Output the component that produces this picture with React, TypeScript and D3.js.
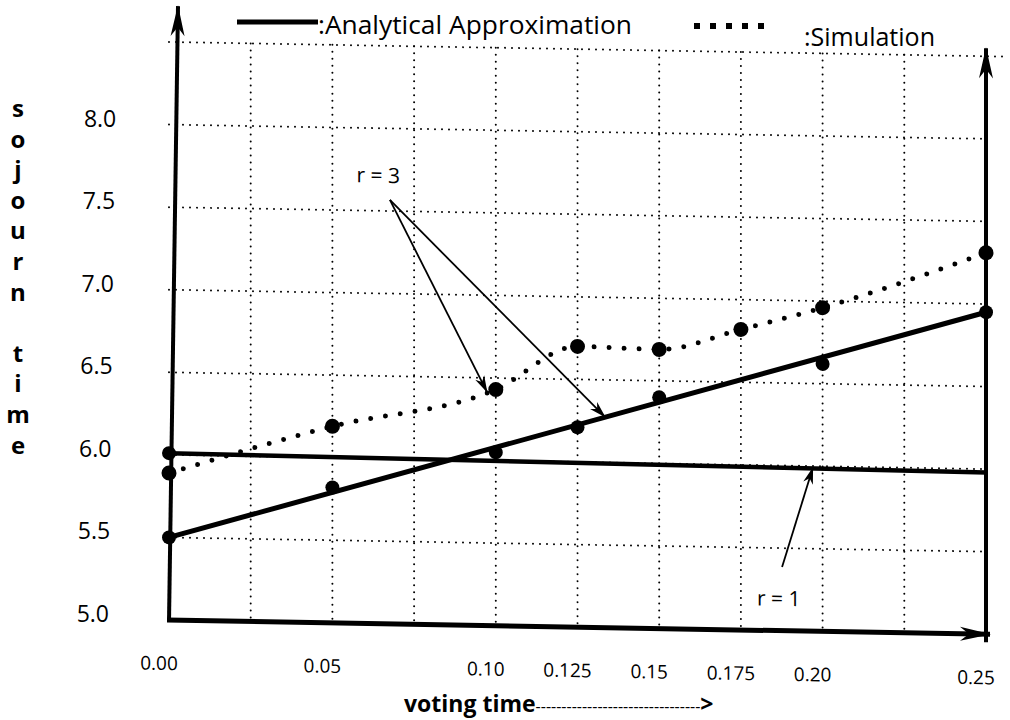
import { useEffect, useRef } from 'react';
import * as d3 from 'd3';

// voting times where the curves were evaluated, and the axis labels
const votingTimes = [0, 0.05, 0.1, 0.125, 0.15, 0.175, 0.2, 0.25];
const xTickLabels = ['0.00', '0.05', '0.10', '0.125', '0.15', '0.175', '0.20', '0.25'];
const yTicks = [5.0, 5.5, 6.0, 6.5, 7.0, 7.5, 8.0];
const yTickLabels = ['5.0', '5.5', '6.0', '6.5', '7.0', '7.5', '8.0'];
const gridXs = [0.025, 0.05, 0.075, 0.1, 0.125, 0.15, 0.175, 0.2, 0.225];
const gridYs = [5.5, 6.0, 6.5, 7.0, 7.5, 8.0, 8.5];

// r = 3, simulation (dotted curve)
const simulationR3 = [5.89, 6.19, 6.43, 6.7, 6.69, 6.82, 6.96, 7.31];
// r = 3, analytical approximation (solid, straight)
const analyticalR3Times = [0, 0.05, 0.1, 0.125, 0.15, 0.2, 0.25];
const analyticalR3 = [5.5, 5.82, 6.05, 6.21, 6.4, 6.62, 6.95];
// r = 1, analytical approximation (solid)
const analyticalR1Times = [0, 0.25];
const analyticalR1 = [6.01, 5.98];
const analyticalR1Marked = [true, false];

// callout labels with arrows, in data units (time, sojourn)
const callouts = [
  {
    label: 'r = 3',
    at: [0.064, 7.67],
    from: [0.0676, 7.567],
    tips: [
      [0.0973, 6.415],
      [0.1334, 6.276],
    ],
  },
  {
    label: 'r = 1',
    at: [0.1866, 5.15],
    from: [0.1876, 5.386],
    tips: [[0.197, 5.989]],
  },
];

const yTitle = 'sojourn time';
const xTitle = 'voting time';

export default function App() {
  const svgRef = useRef<SVGSVGElement>(null);

  useEffect(() => {
    if (!svgRef.current) return;
    const svg = d3.select(svgRef.current);
    svg.selectAll('*').remove();

    const font = "'Open Sans', 'DejaVu Sans', sans-serif";
    const x = d3.scaleLinear().domain([0, 0.25]).range([169, 986]);
    const y = d3.scaleLinear().domain([5, 8.5]).range([620, 42]);
    // the left axis leans right by ~9px over its height
    const lean = 9 / (y(5) - y(8.5) + 36);

    const defs = svg.append('defs');
    defs
      .append('marker')
      .attr('id', 'axisHead')
      .attr('viewBox', '-32 -10 34 20')
      .attr('refX', 0)
      .attr('refY', 0)
      .attr('markerWidth', 34)
      .attr('markerHeight', 20)
      .attr('markerUnits', 'userSpaceOnUse')
      .attr('orient', 'auto')
      .append('path')
      .attr('d', 'M1,0 L-30,-7 L-21,0 L-30,7 Z')
      .attr('fill', '#000');
    defs
      .append('marker')
      .attr('id', 'calloutHead')
      .attr('viewBox', '-18 -7 20 14')
      .attr('refX', 0)
      .attr('refY', 0)
      .attr('markerWidth', 20)
      .attr('markerHeight', 14)
      .attr('markerUnits', 'userSpaceOnUse')
      .attr('orient', 'auto')
      .append('path')
      .attr('d', 'M1,0 L-16,-5 L-11,0 L-16,5 Z')
      .attr('fill', '#000');

    // the scanned figure leans a little, so the plot area is sheared by 1 degree
    const plot = svg
      .append('g')
      .attr('transform', `translate(${x(0)},0) skewY(1) translate(${-x(0)},0)`);

    // dotted grid
    plot
      .append('g')
      .selectAll('line')
      .data(gridYs)
      .join('line')
      .attr('x1', x(0))
      .attr('x2', (d) => (d === 8.5 ? x(0.25) + 22 : x(0.25)))
      .attr('y1', (d) => y(d))
      .attr('y2', (d) => y(d))
      .attr('stroke', '#000')
      .attr('stroke-width', 2)
      .attr('stroke-linecap', 'round')
      .attr('stroke-dasharray', '0 7');
    plot
      .append('g')
      .selectAll('line')
      .data(gridXs)
      .join('line')
      .attr('x1', (d) => x(d))
      .attr('x2', (d) => x(d))
      .attr('y1', y(8.5))
      .attr('y2', y(5))
      .attr('stroke', '#000')
      .attr('stroke-width', 2)
      .attr('stroke-linecap', 'round')
      .attr('stroke-dasharray', '0 7');

    // axes with arrow heads
    const axes = [
      { x1: x(0), y1: y(5) + 2, x2: x(0) + 9, y2: y(8.5) - 36, w: 4 },
      { x1: x(0.25), y1: y(5) + 8, x2: x(0.25), y2: y(8.5) - 8, w: 4 },
      { x1: x(0) - 2, y1: y(5), x2: x(0.25) + 4, y2: y(5), w: 5 },
    ];
    plot
      .append('g')
      .selectAll('line')
      .data(axes)
      .join('line')
      .attr('x1', (d) => d.x1)
      .attr('y1', (d) => d.y1)
      .attr('x2', (d) => d.x2)
      .attr('y2', (d) => d.y2)
      .attr('stroke', '#000')
      .attr('stroke-width', (d) => d.w)
      .attr('marker-end', 'url(#axisHead)');

    // x tick labels
    plot
      .append('g')
      .selectAll('text')
      .data(votingTimes)
      .join('text')
      .attr('x', (d) => x(d) - 10)
      .attr('y', y(5) + 50)
      .attr('text-anchor', 'middle')
      .attr('font-family', font)
      .attr('font-size', 19)
      .text((_, i) => xTickLabels[i]);

    const line = d3
      .line<{ t: number; v: number }>()
      .x((d) => x(d.t))
      .y((d) => y(d.v));

    // r = 1 analytical line
    const r1 = analyticalR1Times.map((t, i) => ({ t, v: analyticalR1[i], mark: analyticalR1Marked[i] }));
    plot
      .append('path')
      .attr('d', line(r1))
      .attr('fill', 'none')
      .attr('stroke', '#000')
      .attr('stroke-width', 4.5);
    plot
      .append('g')
      .selectAll('circle')
      .data(r1.filter((d) => d.mark))
      .join('circle')
      .attr('cx', (d) => x(d.t))
      .attr('cy', (d) => y(d.v))
      .attr('r', 7);

    // r = 3 analytical line: drawn straight between its end points
    const r3a = analyticalR3Times.map((t, i) => ({ t, v: analyticalR3[i] }));
    plot
      .append('path')
      .attr('d', line([r3a[0], r3a[r3a.length - 1]]))
      .attr('fill', 'none')
      .attr('stroke', '#000')
      .attr('stroke-width', 5);
    plot
      .append('g')
      .selectAll('circle')
      .data(r3a)
      .join('circle')
      .attr('cx', (d) => x(d.t))
      .attr('cy', (d) => y(d.v))
      .attr('r', 7);

    // r = 3 simulation curve
    const r3s = votingTimes.map((t, i) => ({ t, v: simulationR3[i] }));
    plot
      .append('path')
      .attr('d', line.curve(d3.curveMonotoneX)(r3s))
      .attr('fill', 'none')
      .attr('stroke', '#000')
      .attr('stroke-width', 5)
      .attr('stroke-linecap', 'round')
      .attr('stroke-dasharray', '0 15');
    plot
      .append('g')
      .selectAll('circle')
      .data(r3s)
      .join('circle')
      .attr('cx', (d) => x(d.t))
      .attr('cy', (d) => y(d.v))
      .attr('r', 7.5);

    // callouts
    callouts.forEach((c) => {
      plot
        .append('text')
        .attr('x', x(c.at[0]))
        .attr('y', y(c.at[1]))
        .attr('text-anchor', 'middle')
        .attr('font-family', font)
        .attr('font-size', 21)
        .text(c.label);
      c.tips.forEach((tip) => {
        plot
          .append('line')
          .attr('x1', x(c.from[0]))
          .attr('y1', y(c.from[1]))
          .attr('x2', x(tip[0]))
          .attr('y2', y(tip[1]))
          .attr('stroke', '#000')
          .attr('stroke-width', 1.8)
          .attr('marker-end', 'url(#calloutHead)');
      });
    });

    // y tick labels follow the leaning left axis
    svg
      .append('g')
      .selectAll('text')
      .data(yTicks)
      .join('text')
      .attr('x', (d) => x(0) - 60 + (y(5) - y(d)) * lean)
      .attr('y', (d) => y(d) + 2)
      .attr('text-anchor', 'end')
      .attr('font-family', font)
      .attr('font-size', 23)
      .text((_, i) => yTickLabels[i]);

    // stacked y title, one letter per row (the space keeps its row empty)
    const letters = yTitle.split('').map((ch, i) => ({ ch, i })).filter((d) => d.ch !== ' ');
    svg
      .append('g')
      .selectAll('text')
      .data(letters)
      .join('text')
      .attr('x', 18)
      .attr('y', (d) => 117 + d.i * 30.6)
      .attr('text-anchor', 'middle')
      .attr('font-family', font)
      .attr('font-weight', 700)
      .attr('font-size', 24)
      .text((d) => d.ch);

    // x title
    const title = svg
      .append('text')
      .attr('x', 404)
      .attr('y', 712)
      .attr('font-family', font)
      .attr('font-weight', 700)
      .attr('font-size', 23);
    title.append('tspan').text(xTitle);
    title
      .append('tspan')
      .attr('font-size', 16)
      .attr('font-weight', 400)
      .text('-'.repeat(32));
    title.append('tspan').text('>');

    // legend
    const legend = svg.append('g');
    legend
      .append('line')
      .attr('x1', 237)
      .attr('x2', 318)
      .attr('y1', 22)
      .attr('y2', 22)
      .attr('stroke', '#000')
      .attr('stroke-width', 5);
    legend
      .append('text')
      .attr('x', 318)
      .attr('y', 34)
      .attr('font-family', font)
      .attr('font-size', 25)
      .attr('textLength', 314)
      .attr('lengthAdjust', 'spacingAndGlyphs')
      .text(':Analytical Approximation');
    legend
      .append('line')
      .attr('x1', 697)
      .attr('x2', 777)
      .attr('y1', 26)
      .attr('y2', 26)
      .attr('stroke', '#000')
      .attr('stroke-width', 6)
      .attr('stroke-linecap', 'square')
      .attr('stroke-dasharray', '0 16');
    legend
      .append('text')
      .attr('x', 804)
      .attr('y', 46)
      .attr('font-family', font)
      .attr('font-size', 25)
      .attr('textLength', 131)
      .attr('lengthAdjust', 'spacingAndGlyphs')
      .text(':Simulation');
  }, []);

  return (
    <svg
      ref={svgRef}
      width={1010}
      height={720}
      style={{ position: 'absolute', left: 0, top: 0, background: '#fff' }}
    ></svg>
  );
}
